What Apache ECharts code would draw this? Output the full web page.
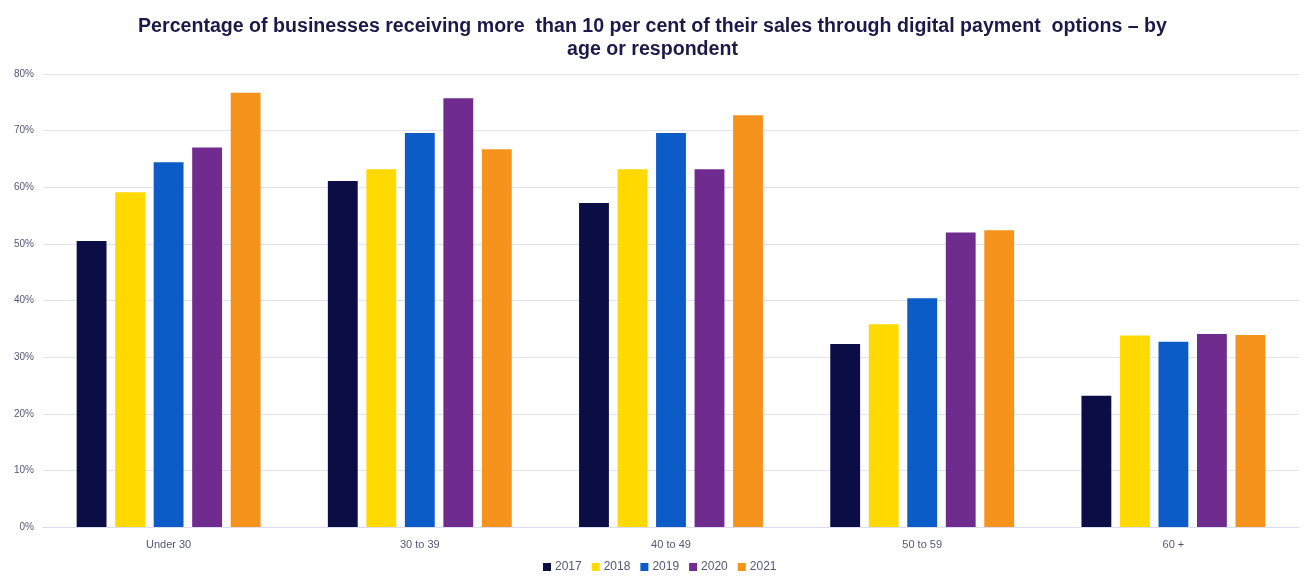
<!DOCTYPE html>
<html>
<head>
<meta charset="utf-8">
<script src="https://cdn.jsdelivr.net/npm/echarts@6/dist/echarts.min.js"></script>
<style>
  html, body { margin: 0; padding: 0; background: #ffffff; }
  #chart { width: 1305px; height: 578px; }
</style>
</head>
<body>
<div id="chart"></div>
<script>
// Age groups along the x axis
const categories = ['Under 30', '30 to 39', '40 to 49', '50 to 59', '60 +'];

// Share of businesses (%) by survey year
const years = ['2017', '2018', '2019', '2020', '2021'];
const values2017 = [50.5, 61.1, 57.2, 32.3, 23.2];
const values2018 = [59.1, 63.2, 63.2, 35.8, 33.8];
const values2019 = [64.4, 69.6, 69.6, 40.4, 32.7];
const values2020 = [67.0, 75.7, 63.2, 52.0, 34.1];
const values2021 = [76.7, 66.7, 72.7, 52.4, 33.9];

const yearColors = ['#0a0e45', '#ffd900', '#0b5cc6', '#6f2b8d', '#f5931d'];

const seriesValues = [values2017, values2018, values2019, values2020, values2021];

const chart = echarts.init(document.getElementById('chart'), null, { renderer: 'canvas' });

chart.setOption({
  animation: false,
  backgroundColor: '#ffffff',
  textStyle: { fontFamily: 'Liberation Sans, Arial, sans-serif' },
  title: {
    text: 'Percentage of businesses receiving more  than 10 per cent of their sales through digital payment  options \u2013 by\nage or respondent',
    left: 'center',
    top: 10,
    textStyle: {
      fontSize: 19.6,
      fontWeight: 'bold',
      color: '#1b1a4b',
      lineHeight: 23,
      align: 'center'
    }
  },
  legend: {
    data: years,
    bottom: 0,
    left: 538,
    itemWidth: 8,
    itemHeight: 8,
    itemGap: 10,
    icon: 'rect',
    textStyle: { fontSize: 12, color: '#55557a', padding: [0, 0, 0, -1] }
  },
  grid: { left: 43, right: 6, top: 74, bottom: 51, containLabel: false },
  xAxis: {
    type: 'category',
    data: categories,
    axisLine: { show: true, lineStyle: { color: '#dcdcf4', width: 1 } },
    axisTick: { show: false },
    axisLabel: { fontSize: 11, color: '#55557a', margin: 12 }
  },
  yAxis: {
    type: 'value',
    min: 0,
    max: 80,
    interval: 10,
    axisLine: { show: false },
    axisTick: { show: false },
    splitLine: { lineStyle: { color: '#e2e2f7', width: 1 } },
    axisLabel: { fontSize: 10, color: '#55557a', margin: 9, formatter: '{value}%' }
  },
  series: years.map((y, i) => ({
    name: y,
    type: 'bar',
    data: seriesValues[i],
    barGap: '29%',
    barCategoryGap: '26.8%',
    itemStyle: { color: yearColors[i] }
  }))
});
</script>
</body>
</html>
